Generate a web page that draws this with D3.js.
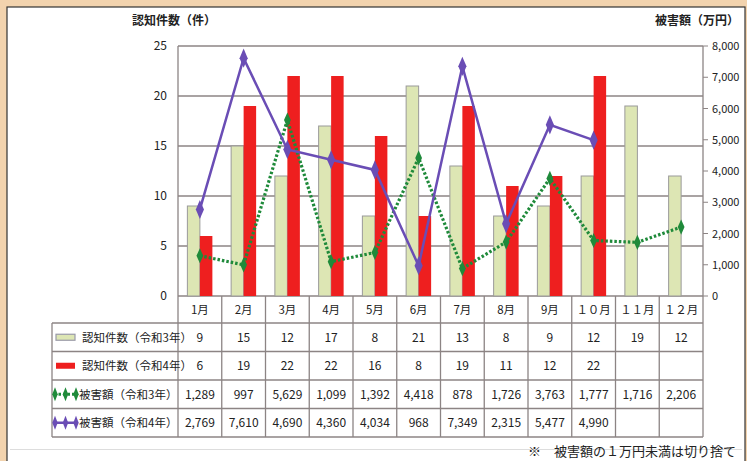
<!DOCTYPE html>
<head>
  <meta charset="utf-8">
  <script src="https://cdn.jsdelivr.net/npm/d3@7"></script>
  <style>
    body { margin:0; background:#f2d3ae; }
    svg { display:block; }
    text { font-family: "Liberation Sans Narrow", "Noto Sans CJK JP", sans-serif; fill:#222; }
    .cjk { font-family: "Noto Sans CJK JP", sans-serif; }
  </style>
</head>
<body>
<script>
  var months = ["1月","2月","3月","4月","5月","6月","7月","8月","9月","10月","11月","12月"];
  var monthLabels = ["1月","2月","3月","4月","5月","6月","7月","8月","9月","１０月","１１月","１２月"];
  var countR3 = [9, 15, 12, 17, 8, 21, 13, 8, 9, 12, 19, 12];
  var countR4 = [6, 19, 22, 22, 16, 8, 19, 11, 12, 22, null, null];
  var damageR3 = [1289, 997, 5629, 1099, 1392, 4418, 878, 1726, 3763, 1777, 1716, 2206];
  var damageR4 = [2769, 7610, 4690, 4360, 4034, 968, 7349, 2315, 5477, 4990, null, null];
  var leftTicks = [0, 5, 10, 15, 20, 25];
  var rightTicks = [0, 1000, 2000, 3000, 4000, 5000, 6000, 7000, 8000];
  var rowNames = ["認知件数（令和3年）", "認知件数（令和4年）", "被害額（令和3年）", "被害額（令和4年）"];

  var width = 747, height = 461;
  var gridColor = "#8c8484";
  var svg = d3.select("body").append("svg").attr("width", width).attr("height", height);

  // frame
  svg.append("rect").attr("x", 7).attr("y", 7).attr("width", 738).attr("height", 460)
    .attr("fill", "#fff").attr("stroke", "#333").attr("stroke-width", 1.2);
  svg.append("line").attr("x1", 10).attr("x2", 742).attr("y1", 449.5).attr("y2", 449.5)
    .attr("stroke", "#ddd");

  var x = d3.scaleBand().domain(months).range([178, 703]);
  var yL = d3.scaleLinear().domain([0, 25]).range([296, 46]);
  var yR = d3.scaleLinear().domain([0, 8000]).range([296, 46]);
  var barW = 12.5;

  // gridlines
  svg.append("g").selectAll("line").data(leftTicks).enter().append("line")
    .attr("x1", 178).attr("x2", 703)
    .attr("y1", function(d) { return yL(d); }).attr("y2", function(d) { return yL(d); })
    .attr("stroke", gridColor).attr("stroke-width", 1.3);
  svg.append("line").attr("x1", 178).attr("x2", 178).attr("y1", 46).attr("y2", 296)
    .attr("stroke", gridColor).attr("stroke-width", 1.3);
  svg.append("line").attr("x1", 703).attr("x2", 703).attr("y1", 46).attr("y2", 296)
    .attr("stroke", gridColor).attr("stroke-width", 1.3);

  // left axis labels
  svg.append("g").selectAll("text").data(leftTicks).enter().append("text")
    .attr("x", 167).attr("y", function(d) { return yL(d) + 4; })
    .attr("text-anchor", "end").attr("font-size", 12)
    .text(function(d) { return d; });

  // right axis
  var fmt = d3.format(",");
  var rAxis = svg.append("g");
  rAxis.selectAll("line").data(rightTicks).enter().append("line")
    .attr("x1", 703).attr("x2", 708)
    .attr("y1", function(d) { return yR(d); }).attr("y2", function(d) { return yR(d); })
    .attr("stroke", gridColor);
  rAxis.selectAll("text").data(rightTicks).enter().append("text")
    .attr("x", 712).attr("y", function(d) { return yR(d) + 4; })
    .attr("font-size", 11)
    .text(function(d) { return fmt(d); });

  // axis titles
  svg.append("text").attr("class", "cjk").attr("x", 174).attr("y", 25)
    .attr("text-anchor", "middle").attr("font-size", 12).attr("font-weight", "bold")
    .text("認知件数（件）");
  svg.append("text").attr("class", "cjk").attr("x", 739).attr("y", 25)
    .attr("text-anchor", "end").attr("font-size", 12).attr("font-weight", "bold")
    .text("被害額（万円）");

  // bars
  svg.append("g").selectAll("rect").data(countR3).enter().append("rect")
    .attr("x", function(d, i) { return x(months[i]) + x.bandwidth() / 2 - barW; })
    .attr("y", function(d) { return yL(d); })
    .attr("width", barW).attr("height", function(d) { return yL(0) - yL(d); })
    .attr("fill", "#dde6b4").attr("stroke", "#9a9a9a").attr("stroke-width", 1);
  svg.append("g").selectAll("rect").data(countR4.filter(function(d) { return d != null; })).enter().append("rect")
    .attr("x", function(d, i) { return x(months[i]) + x.bandwidth() / 2; })
    .attr("y", function(d) { return yL(d); })
    .attr("width", barW).attr("height", function(d) { return yL(0) - yL(d); })
    .attr("fill", "#ee1f1f");

  // lines
  var line = d3.line()
    .defined(function(d) { return d != null; })
    .x(function(d, i) { return x(months[i]) + x.bandwidth() / 2; })
    .y(function(d) { return yR(d); });
  var diamond = d3.symbol().type(d3.symbolDiamond);

  svg.append("path").datum(damageR3).attr("d", line)
    .attr("fill", "none").attr("stroke", "#1f8a3a").attr("stroke-width", 3.2)
    .attr("stroke-dasharray", "2.5,2");
  svg.append("g").selectAll("path").data(damageR3).enter().append("path")
    .attr("d", diamond.size(55))
    .attr("transform", function(d, i) { return "translate(" + (x(months[i]) + x.bandwidth() / 2) + "," + yR(d) + ") scale(0.85,1.1)"; })
    .attr("fill", "#1f8a3a");

  svg.append("path").datum(damageR4).attr("d", line)
    .attr("fill", "none").attr("stroke", "#6a4db5").attr("stroke-width", 2.5);
  svg.append("g").selectAll("path").data(damageR4.filter(function(d) { return d != null; })).enter().append("path")
    .attr("d", diamond.size(80))
    .attr("transform", function(d, i) { return "translate(" + (x(months[i]) + x.bandwidth() / 2) + "," + yR(d) + ") scale(0.85,1.15)"; })
    .attr("fill", "#6a4db5");

  // data table
  var rowTop = [323, 351.5, 380, 408.5, 437];
  var t = svg.append("g");
  t.selectAll("line.h").data(rowTop).enter().append("line")
    .attr("x1", 52).attr("x2", 703)
    .attr("y1", function(d) { return d; }).attr("y2", function(d) { return d; })
    .attr("stroke", gridColor).attr("stroke-width", 1.3);
  var vx = months.map(function(m) { return x(m); }).concat([703]);
  t.selectAll("line.v").data(vx).enter().append("line")
    .attr("x1", function(d) { return d; }).attr("x2", function(d) { return d; })
    .attr("y1", 296).attr("y2", 437)
    .attr("stroke", gridColor).attr("stroke-width", 1.3);
  t.append("line").attr("x1", 52).attr("x2", 52).attr("y1", 323).attr("y2", 437)
    .attr("stroke", gridColor).attr("stroke-width", 1.3);

  t.selectAll("text.m").data(monthLabels).enter().append("text")
    .attr("class", "cjk")
    .attr("x", function(d, i) { return x(months[i]) + x.bandwidth() / 2; })
    .attr("y", 314).attr("text-anchor", "middle").attr("font-size", 11.5)
    .text(function(d) { return d; });

  var rows = [countR3, countR4, damageR3, damageR4];
  rows.forEach(function(r, k) {
    t.append("g").selectAll("text").data(r).enter().append("text")
      .attr("x", function(d, i) { return x(months[i]) + x.bandwidth() / 2; })
      .attr("y", (rowTop[k] + rowTop[k + 1]) / 2 + 4.5)
      .attr("text-anchor", "middle").attr("font-size", 12)
      .text(function(d) { return d == null ? "" : fmt(d); });
  });

  // legend keys
  rowNames.forEach(function(name, k) {
    var cy = (rowTop[k] + rowTop[k + 1]) / 2;
    var tx = k < 2 ? 82 : 79;
    t.append("text").attr("class", "cjk").attr("x", tx).attr("y", cy + 4.5)
      .attr("font-size", 11.5).text(name);
  });
  var c0 = (rowTop[0] + rowTop[1]) / 2, c1 = (rowTop[1] + rowTop[2]) / 2;
  var c2 = (rowTop[2] + rowTop[3]) / 2, c3 = (rowTop[3] + rowTop[4]) / 2;
  t.append("rect").attr("x", 56).attr("y", c0 - 3).attr("width", 19).attr("height", 6)
    .attr("fill", "#dde6b4").attr("stroke", "#9a9aa8").attr("stroke-width", 1.2);
  t.append("rect").attr("x", 56).attr("y", c1 - 3).attr("width", 19).attr("height", 6)
    .attr("fill", "#ee1f1f");
  [[c2, "#1f8a3a", "2.5,2", 3], [c3, "#6a4db5", null, 2.5]].forEach(function(s) {
    t.append("line").attr("x1", 54).attr("x2", 76).attr("y1", s[0]).attr("y2", s[0])
      .attr("stroke", s[1]).attr("stroke-width", s[3]).attr("stroke-dasharray", s[2]);
    [55, 65.5, 76].forEach(function(px) {
      t.append("path").attr("d", diamond.size(40))
        .attr("transform", "translate(" + px + "," + s[0] + ") scale(0.8,1.2)")
        .attr("fill", s[1]);
    });
  });

  // note
  svg.append("text").attr("class", "cjk").attr("x", 736).attr("y", 456)
    .attr("text-anchor", "end").attr("font-size", 13)
    .text("※　被害額の１万円未満は切り捨て");
</script>
</body>
